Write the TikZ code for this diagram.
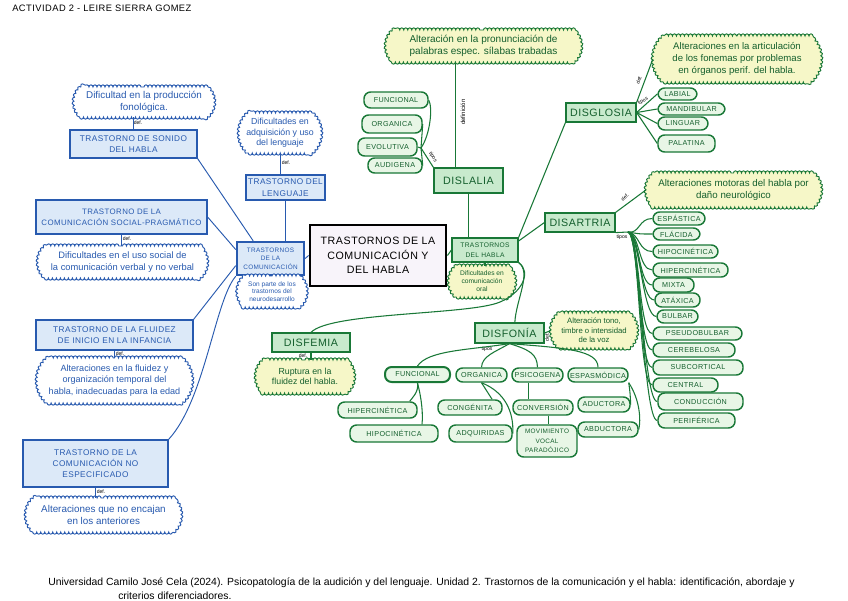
\documentclass[tikz,border=0pt]{standalone}
\usepackage{fontspec}
\setmainfont{Liberation Sans}
\newfontfamily\capsf[LetterSpace=5]{Liberation Sans}
\usetikzlibrary{decorations.pathmorphing,calc,shapes.misc}
\definecolor{bl}{RGB}{40,90,175}
\definecolor{blfill}{RGB}{220,233,248}
\definecolor{gr}{RGB}{25,120,55}
\definecolor{grtext}{RGB}{20,95,45}
\definecolor{grfill}{RGB}{200,234,205}
\definecolor{pillfill}{RGB}{232,246,230}
\definecolor{yel}{RGB}{246,247,200}
\definecolor{lav}{RGB}{248,244,250}
\tikzset{
 wh/.style 2 args={minimum width=#1*0.75pt, minimum height=#2*0.75pt},
 bbox/.style={draw=bl, fill=blfill, line width=0.9pt, text=bl, font=\capsf\fontsize{6.2}{8.5}\selectfont, align=center, inner sep=1pt},
 cloudy/.style={shape=rounded rectangle, rounded rectangle arc length=100, inner sep=1pt, align=center, decorate, decoration={bumps, segment length=6pt, amplitude=1.6pt}},
 bcloud/.style={cloudy, draw=bl, fill=white, line width=0.7pt, text=bl, font=\fontsize{7}{8.5}\selectfont},
 gbox/.style={draw=gr, fill=grfill, line width=0.9pt, text=grtext, font=\capsf\fontsize{8}{9}\selectfont, align=center, inner sep=1pt},
 gpill/.style={draw=gr, fill=pillfill, line width=1.1pt, text=grtext, font=\capsf\fontsize{5.4}{6.5}\selectfont, align=center, inner sep=1pt, rounded corners=5pt},
 gcloud/.style={cloudy, draw=gr, fill=yel, line width=0.7pt, text=grtext, font=\fontsize{7.3}{8.6}\selectfont},
 bline/.style={draw=bl, line width=0.7pt},
 gline/.style={draw=gr, line width=0.8pt},
 lbl/.style={font=\fontsize{3.8}{4}\selectfont, inner sep=0.5pt},
}
\begin{document}
\begin{tikzpicture}[x=0.75pt,y=-0.75pt]
\fill[white] (0,0) rectangle (848,600);
\useasboundingbox (0,0) rectangle (848,600);

% title
\node[anchor=west, font=\capsf\fontsize{7}{8}\selectfont, inner sep=0pt] (title) at (12,8) {ACTIVIDAD 2 - LEIRE SIERRA GOMEZ};

% main
\node[draw=black, line width=2.2pt, fill=lav, font=\capsf\fontsize{8}{11}\selectfont, align=center, wh={136}{61}] (main) at (378,255.5) {TRASTORNOS DE LA\\COMUNICACIÓN Y\\DEL HABLA};

% ---------- blue part
\node[bbox, wh={67}{33}, line width=1.8pt, font=\capsf\fontsize{4.8}{6.5}\selectfont] (tc) at (270.5,258.5) {TRASTORNOS\\DE LA\\COMUNICACIÓN};
\node[bcloud, wh={71}{31}, font=\fontsize{4.9}{5.8}\selectfont] (tcc) at (272,291.5) {Son parte de los\\trastornos del\\neurodesarrollo};
\node[bbox, wh={79}{25}] (tl) at (285.5,187.5) {TRASTORNO DEL\\LENGUAJE};
\node[bcloud, wh={84}{40}, font=\fontsize{6.6}{8}\selectfont] (tlc) at (280,133) {Dificultades en\\adquisición y uso\\del lenguaje};
\node[bbox, wh={127}{28}] (ts) at (133.5,144) {TRASTORNO DE SONIDO\\DEL HABLA};
\node[bcloud, wh={142}{30}, font=\fontsize{7.4}{8.6}\selectfont] (tsc) at (144,102) {Dificultad en la producción\\fonológica.};
\node[bbox, wh={171}{34}, font=\capsf\fontsize{5.9}{8.5}\selectfont] (tp) at (121.5,217) {TRASTORNO DE LA\\COMUNICACIÓN SOCIAL-PRAGMÁTICO};
\node[bcloud, wh={171}{32}] (tpc) at (122.5,262) {Dificultades en el uso social de\\la comunicación verbal y no verbal};
\node[bbox, wh={157}{30}] (tf) at (114.5,335) {TRASTORNO DE LA FLUIDEZ\\DE INICIO EN LA INFANCIA};
\node[bcloud, wh={157}{45}, font=\fontsize{6.8}{8.4}\selectfont] (tfc) at (114.5,380.5) {Alteraciones en la fluidez y\\organización temporal del\\habla, inadecuadas para la edad};
\node[bbox, wh={145}{47}] (tn) at (95.5,463.5) {TRASTORNO DE LA\\COMUNICACIÓN NO\\ESPECIFICADO};
\node[bcloud, wh={157}{34}, font=\fontsize{7.4}{8.8}\selectfont] (tnc) at (103.5,515) {Alteraciones que no encajan\\en los anteriores};

\draw[bline] (ts.south east) -- ($(tc.north west)!0.25!(tc.north east)$);
\draw[bline] (tp.east) -- ($(tc.north west)!0.25!(tc.south west)$);
\draw[bline] (tf.north east) -- ($(tc.north west)!0.7!(tc.south west)$);
\draw[bline] (tn.north east) .. controls (205,400) and (215,300) .. (tc.south west);
\draw[bline] (tl.south) -- (tl.south |- tc.north);
\draw[bline] (tlc.south) -- (tlc.south |- tl.north);
\draw[bline] (ts.north) -- (ts.north |- tsc.south);
\draw[bline] (tp.south) -- (tp.south |- tpc.north);
\draw[bline] (tf.south) -- (tf.south |- tfc.north);
\draw[bline] (tn.south) -- (tn.south |- tnc.north);
\draw[bline] (tc.east) -- (main.west);
\node[lbl, text=black] (m1) at (138,123) {def.};
\node[lbl, text=black] (m2) at (286,163) {def.};
\node[lbl, text=black] (m3) at (127,239) {def.};
\node[lbl, text=black] (m4) at (120,354) {def.};
\node[lbl, text=black] (m5) at (101,492) {def.};

% ---------- green part
\node[gbox, wh={66}{24}, font=\capsf\fontsize{5}{7}\selectfont] (th) at (485,250) {TRASTORNOS\\DEL HABLA};
\node[gcloud, wh={68}{31}, font=\fontsize{5}{6}\selectfont] (thc) at (482,281.5) {Dificultades en\\comunicación\\oral};
\draw[gline] (main.east) -- (th.west);
\draw[gline] (th.south) -- (th.south |- thc.north);

% DISLALIA
\node[gbox, wh={69}{25}] (dl) at (468.5,180.5) {DISLALIA};
\node[gcloud, wh={197}{32}, font=\fontsize{7.5}{8.8}\selectfont] (dlc) at (483.5,46) {Alteración en la pronunciación de\\palabras espec. sílabas trabadas};
\draw[gline] (dl.south) -- (dl.south |- th.north);
\draw[gline] ([xshift=-10pt]dl.north) -- ([xshift=-10pt]dl.north |- dlc.south);
\node[lbl, rotate=90, font=\fontsize{4.5}{5}\selectfont] (ldef) at (463,112) {definición};
\node[gpill, wh={64}{16}] (fu) at (396,100) {FUNCIONAL};
\node[gpill, wh={60}{18}] (or) at (392,124) {ORGANICA};
\node[gpill, wh={59}{18}] (ev) at (387.5,147) {EVOLUTIVA};
\node[gpill, wh={54}{15}] (au) at (395,165.5) {AUDIGENA};
\coordinate (dj) at (421,148);
\draw[gline] (dl.north west) -- (dj);
\draw[gline] (dj) .. controls (430,135) and (433,108) .. (fu.east);
\draw[gline] (dj) -- (or.east);
\draw[gline] (dj) -- (ev.east);
\draw[gline] (dj) -- (au.east);
\node[lbl, rotate=-57] (ltip1) at (433,157) {tipos};

% DISGLOSIA
\node[gbox, wh={70}{19}] (dg) at (601,112.5) {DISGLOSIA};
\node[gcloud, wh={170}{46}, font=\fontsize{7.2}{8.8}\selectfont] (dgc) at (737,59) {Alteraciones en la articulación\\de los fonemas por problemas\\en órganos perif. del habla.};
\draw[gline] (th.north east) -- (dg.south west);
\draw[gline] (dg.north east) -- (dgc.west);
\node[lbl, rotate=68] (ldef2) at (639,80) {def.};
\node[gpill, wh={39}{12}] (lab) at (677.5,94) {LABIAL};
\node[gpill, wh={67}{12}] (man) at (691.5,109) {MANDIBULAR};
\node[gpill, wh={50}{13}] (lin) at (683,123.5) {LINGUAR};
\node[gpill, wh={57}{17}] (pal) at (686.5,143.5) {PALATINA};
\foreach \n in {lab,man,lin,pal} \draw[gline] (dg.east) -- (\n.west);
\node[lbl, rotate=28] (ltip2) at (643,101) {tipos};

% DISARTRIA
\node[gbox, wh={70}{19}] (da) at (580,222.5) {DISARTRIA};
\node[gcloud, wh={177}{34}, font=\fontsize{7.3}{8.8}\selectfont] (dac) at (733.5,190) {Alteraciones motoras del habla por\\daño neurológico};
\draw[gline] (th.15) -- (da.west);
\draw[gline] (da.north east) -- (dac.west);
\node[lbl, rotate=39] (ldef3) at (625,197) {def.};
\node[lbl] (ltip3) at (622,237) {tipos};
\node[gpill, wh={52}{13}] (p1) at (679,218.5) {ESPÁSTICA};
\node[gpill, wh={47}{12}] (p2) at (676.5,234) {FLÁCIDA};
\node[gpill, wh={65}{13}] (p3) at (685.5,251.5) {HIPOCINÉTICA};
\node[gpill, wh={75}{14}] (p4) at (690.5,270) {HIPERCINÉTICA};
\node[gpill, wh={41}{14}] (p5) at (673.5,285) {MIXTA};
\node[gpill, wh={45}{14}] (p6) at (677.5,300) {ATÁXICA};
\node[gpill, wh={41}{13}] (p7) at (677.5,316.5) {BULBAR};
\node[gpill, wh={89}{13}] (p8) at (697.5,333.5) {PSEUDOBULBAR};
\node[gpill, wh={82}{14}] (p9) at (694,350) {CEREBELOSA};
\node[gpill, wh={90}{15}] (p10) at (698,367.5) {SUBCORTICAL};
\node[gpill, wh={65}{14}] (p11) at (685.5,385) {CENTRAL};
\node[gpill, wh={85}{17}] (p12) at (700.5,401.5) {CONDUCCIÓN};
\node[gpill, wh={77}{15}] (p13) at (696.5,420.5) {PERIFÉRICA};
\coordinate (dj2) at (628,232);
\draw[gline] (da.south east) -- (dj2);
\foreach \n in {p1,p2,p3,p4,p5,p6,p7,p8,p9,p10,p11,p12,p13}
  \draw[gline] (dj2) .. controls (640,234) and ($(\n.west)+(-14,0)$) .. (\n.west);

% DISFONIA
\node[gbox, wh={69}{20}] (df) at (509.5,333) {DISFONÍA};
\node[gcloud, wh={88}{35}, font=\fontsize{5.8}{7}\selectfont] (dfc) at (594,330.5) {Alteración tono,\\timbre o intensidad\\de la voz};
\draw[gline] (th.south east) .. controls (532,272) and (516,300) .. ([xshift=4pt]df.north);
\draw[gline] (df.east) -- (dfc.west);
\node[lbl, rotate=90] (ldef4) at (547,337) {def.};
\node[lbl] (ltip4) at (487,349) {tipos};
\node[gpill, wh={65}{15}, line width=1.5pt] (dfu) at (417.5,374.5) {FUNCIONAL};
\node[gpill, wh={51}{14}] (dor) at (481.5,375) {ORGANICA};
\node[gpill, wh={51}{14}] (dps) at (537.5,375) {PSICOGENA};
\node[gpill, wh={60}{14}] (des) at (598,375) {ESPASMÓDICA};
\node[gpill, wh={79}{16}] (hper) at (377.5,410) {HIPERCINÉTICA};
\node[gpill, wh={88}{17}] (hpo) at (394,433.5) {HIPOCINÉTICA};
\node[gpill, wh={64}{15}] (cong) at (470,407.5) {CONGÉNITA};
\node[gpill, wh={63}{17}] (adq) at (480.5,433.5) {ADQUIRIDAS};
\node[gpill, wh={60}{15}] (conv) at (543,407.5) {CONVERSIÓN};
\node[gpill, wh={60}{32}, font=\capsf\fontsize{4.8}{7}\selectfont] (mov) at (547,441) {MOVIMIENTO\\VOCAL\\PARADÓJICO};
\node[gpill, wh={52}{15}] (adu) at (604,404.5) {ADUCTORA};
\node[gpill, wh={60}{15}] (abd) at (608,429.5) {ABDUCTORA};
\draw[gline] (df.south) .. controls (470,350) and (428,350) .. (dfu.north);
\draw[gline] (df.south) .. controls (495,352) and (482,356) .. (dor.north);
\draw[gline] (df.south) .. controls (530,350) and (537,354) .. (dps.north);
\draw[gline] (df.south) .. controls (565,348) and (598,350) .. (des.north);
\draw[gline] (dfu.south) .. controls (419,392) and (412,398) .. ([xshift=-6pt]hper.north east);
\draw[gline] (dfu.south) .. controls (422,400) and (423,415) .. ([xshift=21pt]hpo.north);
\draw[gline] (dor.south) -- ([xshift=-8pt]cong.north east);
\draw[gline] (dor.south) .. controls (505,392) and (514,412) .. (adq.east);
\draw[gline] ([xshift=-7pt]dps.south) -- ([xshift=-7pt]dps.south |- conv.north);
\draw[gline] ([xshift=4pt]conv.south) -- ([xshift=4pt]conv.south |- mov.north);
\draw[gline] (des.south east) .. controls (630,392) .. (adu.east);
\draw[gline] (des.south east) .. controls (640,400) and (641,420) .. (abd.east);

% DISFEMIA
\node[gbox, wh={78}{19}] (dm) at (311,342.5) {DISFEMIA};
\node[gcloud, wh={100}{33}, font=\fontsize{6.6}{8}\selectfont] (dmc) at (305,376.5) {Ruptura en la\\fluidez del habla.};
\draw[gline] (th.south east) .. controls (532,272) and (522,293) .. (500,302) .. controls (470,315) and (330,312) .. (dm.north);
\draw[gline] (dm.south) -- (dm.south |- dmc.north);
\node[lbl] (ldef5) at (303,356) {def.};

% footer
\node[anchor=west, font=\fontsize{7.8}{9}\selectfont, inner sep=0pt] (ref1) at (48,583) {Universidad Camilo José Cela (2024). Psicopatología de la audición y del lenguaje. Unidad 2. Trastornos de la comunicación y el habla: identificación, abordaje y};
\node[anchor=west, font=\fontsize{7.8}{9}\selectfont, inner sep=0pt] (ref2) at (118,596) {criterios diferenciadores.};
\end{tikzpicture}
\end{document}
